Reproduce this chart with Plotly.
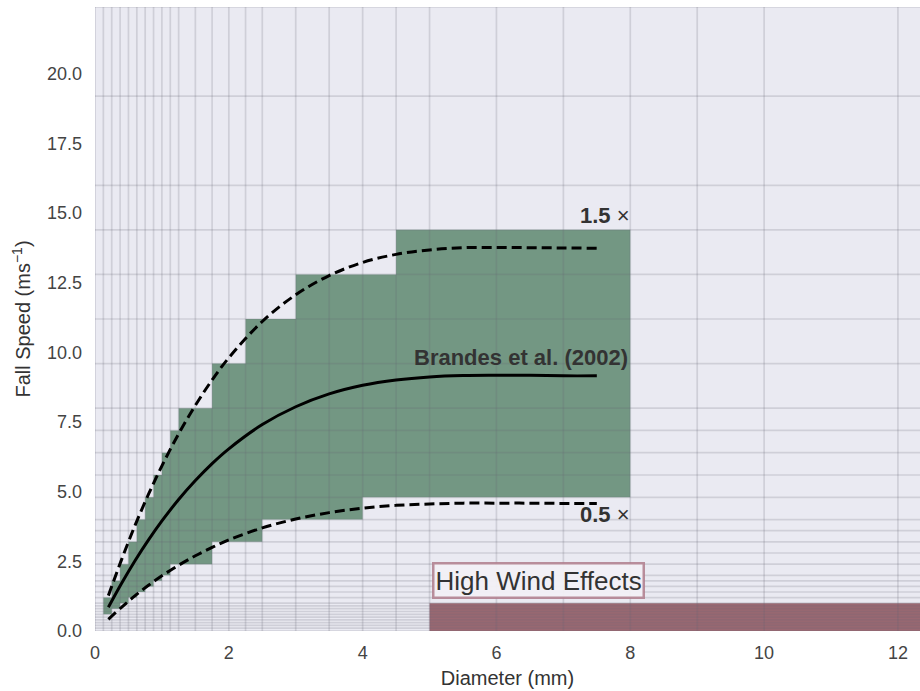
import plotly.graph_objects as go

# Parsivel-style bin edges
diam_edges = [0, 0.125, 0.25, 0.375, 0.5, 0.625, 0.75, 0.875, 1.0, 1.125, 1.25,
              1.5, 1.75, 2.0, 2.25, 2.5, 3.0, 3.5, 4.0, 4.5, 5.0, 6.0, 7.0, 8.0,
              9.0, 10.0, 12.0, 14.0]
vel_edges = [0, 0.1, 0.2, 0.3, 0.4, 0.5, 0.6, 0.7, 0.8, 0.9, 1.0, 1.2, 1.4, 1.6,
             1.8, 2.0, 2.4, 2.8, 3.2, 3.6, 4.0, 4.8, 5.6, 6.4, 7.2, 8.0, 9.6,
             11.2, 12.8, 14.4, 16.0, 19.2, 22.4]

# Accepted region (per diameter bin: lower/upper velocity edge)
green_d_lo = [0.125, 0.25, 0.375, 0.5, 0.625, 0.75, 0.875, 1.0, 1.125, 1.25,
              1.5, 1.75, 2.0, 2.25, 2.5, 3.0, 3.5, 4.0, 4.5, 5.0, 6.0, 7.0]
green_d_hi = [0.25, 0.375, 0.5, 0.625, 0.75, 0.875, 1.0, 1.125, 1.25, 1.5,
              1.75, 2.0, 2.25, 2.5, 3.0, 3.5, 4.0, 4.5, 5.0, 6.0, 7.0, 8.0]
green_v_lo = [0.6, 0.8, 1.0, 1.2, 1.4, 1.6, 1.8, 2.0, 2.4, 2.4,
              2.4, 3.2, 3.2, 3.2, 4.0, 4.0, 4.0, 4.8, 4.8, 4.8, 4.8, 4.8]
green_v_hi = [1.2, 1.8, 2.4, 3.2, 4.0, 4.8, 5.6, 6.4, 7.2, 8.0,
              8.0, 9.6, 9.6, 11.2, 11.2, 12.8, 12.8, 12.8, 14.4, 14.4, 14.4, 14.4]

# Fall speed curves
curve_d = [0.2, 0.4, 0.6, 0.8, 1.0, 1.25, 1.5, 1.75, 2.0, 2.5, 3.0, 3.5, 4.0,
           4.5, 5.0, 5.5, 6.0, 6.5, 7.0, 7.5]
brandes_v = [0.85, 1.72, 2.53, 3.27, 3.95, 4.72, 5.40, 6.01, 6.54, 7.41, 8.05,
             8.51, 8.82, 9.01, 9.12, 9.17, 9.18, 9.18, 9.16, 9.16]
upper_v = [1.27, 2.58, 3.80, 4.91, 5.93, 7.08, 8.10, 9.01, 9.81, 11.11, 12.07,
           12.76, 13.23, 13.52, 13.68, 13.76, 13.77, 13.76, 13.75, 13.74]
lower_v = [0.42, 0.86, 1.27, 1.64, 1.98, 2.36, 2.70, 3.00, 3.27, 3.70, 4.02,
           4.25, 4.41, 4.51, 4.56, 4.59, 4.59, 4.59, 4.58, 4.58]

# High wind region
wind_d = [5.0, 14.0]
wind_v = [0.0, 1.0]

x_ticks = [0, 2, 4, 6, 8, 10, 12]
y_ticks = [0, 2.5, 5, 7.5, 10, 12.5, 15, 17.5, 20]

FONT = "Liberation Sans, Arial, sans-serif"
fig = go.Figure()

# green polygon
px, py = [], []
for lo, hi, vh in zip(green_d_lo, green_d_hi, green_v_hi):
    px += [lo, hi]
    py += [vh, vh]
for lo, hi, vl in reversed(list(zip(green_d_lo, green_d_hi, green_v_lo))):
    px += [hi, lo]
    py += [vl, vl]
fig.add_trace(go.Scatter(x=px, y=py, fill="toself", fillcolor="#739783",
                         line=dict(width=0), mode="lines", hoverinfo="skip",
                         showlegend=False))

# high wind rectangle
fig.add_trace(go.Scatter(x=[wind_d[0], wind_d[1], wind_d[1], wind_d[0], wind_d[0]],
                         y=[wind_v[0], wind_v[0], wind_v[1], wind_v[1], wind_v[0]],
                         fill="toself", fillcolor="#9A6872", line=dict(width=0),
                         mode="lines", hoverinfo="skip", showlegend=False))

# bin grid lines
gx, gy = [], []
for d in diam_edges:
    gx += [d, d, None]
    gy += [0, 22.4, None]
for v in vel_edges:
    gx += [0, 14, None]
    gy += [v, v, None]
fig.add_trace(go.Scatter(x=gx, y=gy, mode="lines",
                         line=dict(color="rgba(100,100,115,0.2)", width=1.7),
                         hoverinfo="skip", showlegend=False))

# curves
fig.add_trace(go.Scatter(x=curve_d, y=upper_v, mode="lines", line_shape="spline",
                         line=dict(color="black", width=3, dash="10px,5px"),
                         showlegend=False))
fig.add_trace(go.Scatter(x=curve_d, y=lower_v, mode="lines", line_shape="spline",
                         line=dict(color="black", width=3, dash="10px,5px"),
                         showlegend=False))
fig.add_trace(go.Scatter(x=curve_d, y=brandes_v, mode="lines", line_shape="spline",
                         line=dict(color="black", width=3), showlegend=False))

ann_font = dict(family=FONT, size=22, color="#333333")
fig.add_annotation(x=8.03, y=14.93, text="<b>1.5</b> ×", showarrow=False,
                   xanchor="right", yanchor="middle", font=ann_font)
fig.add_annotation(x=8.0, y=9.82, text="<b>Brandes et al. (2002)</b>", showarrow=False,
                   xanchor="right", yanchor="middle", font=ann_font)
fig.add_annotation(x=8.03, y=4.17, text="<b>0.5</b> ×", showarrow=False,
                   xanchor="right", yanchor="middle", font=ann_font)
fig.add_annotation(x=5.03, y=1.82, text="High Wind Effects", showarrow=False,
                   xanchor="left", yanchor="middle",
                   font=dict(family=FONT, size=26, color="#333333"),
                   bordercolor="rgba(175,125,140,0.85)", borderwidth=2.5,
                   borderpad=1, bgcolor="rgba(242,240,245,0.95)")

fig.update_layout(
    width=920, height=691,
    margin=dict(l=95, r=0, t=7, b=60),
    paper_bgcolor="white", plot_bgcolor="#EAEAF2",
    font=dict(family=FONT, size=18, color="#333333"),
    hovermode=False,
    xaxis=dict(range=[0, 12.33], tickvals=x_ticks, showgrid=False, zeroline=False,
               showline=False, ticks="", ticklabelstandoff=9,
               tickfont=dict(size=18, color="#444"),
               title=dict(text="Diameter (mm)", font=dict(size=20, color="#333"),
                          standoff=8)),
    yaxis=dict(range=[0, 22.4], tickvals=y_ticks, tickformat=".1f", showgrid=False,
               zeroline=False, showline=False, ticks="", ticklabelstandoff=12,
               tickfont=dict(size=18, color="#444"),
               title=dict(text="Fall Speed (ms<sup>−1</sup>)",
                          font=dict(size=20, color="#333"), standoff=10)),
)

fig.write_html("out.html", config={"displayModeBar": False},
               post_script="document.body.style.margin='0';"
                           "document.body.style.overflow='hidden';")
